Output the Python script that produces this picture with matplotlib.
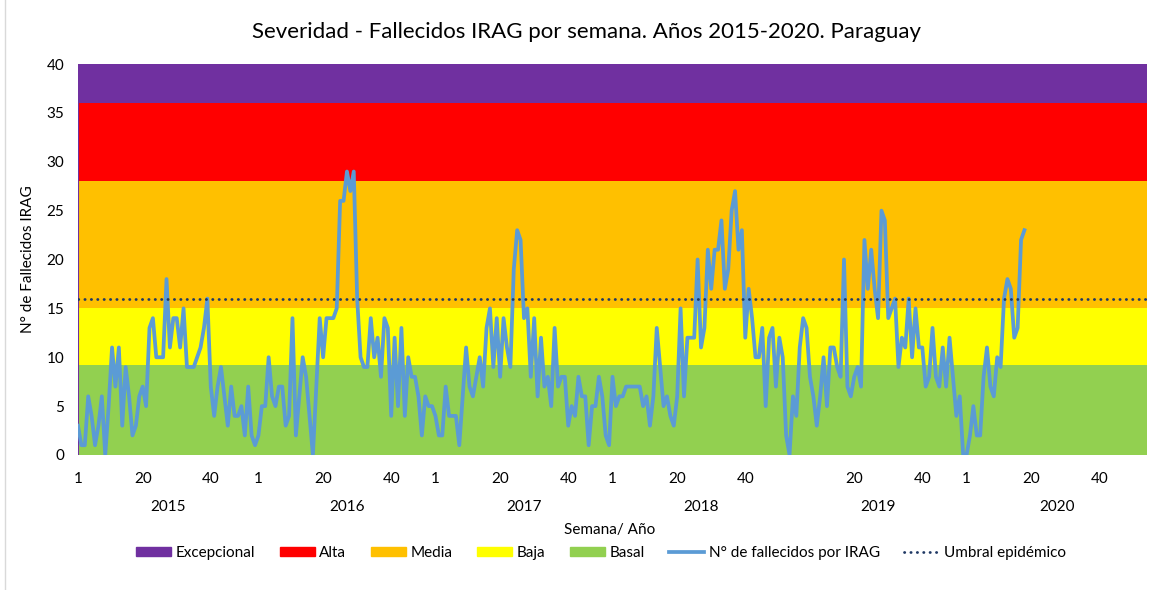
import numpy as np
import matplotlib
matplotlib.use("Agg")
import matplotlib.pyplot as plt
import matplotlib.transforms as mtransforms
from matplotlib.patches import Patch
from matplotlib.lines import Line2D

plt.rcParams['font.family'] = ['Lato', 'DejaVu Sans']

years = ['2015', '2016', '2017', '2018', '2019', '2020']
year_weeks = [53, 52, 52, 52, 52, 53]

# weekly deaths
deaths_2015 = [3, 1, 1, 6, 4, 1, 3, 6, 0, 5, 11, 7, 11, 3, 9, 6, 2, 3, 6, 7,
               5, 13, 14, 10, 10, 10, 18, 11, 14, 14, 11, 15, 9, 9, 9, 10, 11, 13, 16, 7,
               4, 7, 9, 6, 3, 7, 4, 4, 5, 2, 7, 2, 1]
deaths_2016 = [2, 5, 5, 10, 6, 5, 7, 7, 3, 4, 14, 2, 6, 10, 8, 4, 0, 7, 14, 10,
               14, 14, 14, 15, 26, 26, 29, 27, 29, 16, 10, 9, 9, 14, 10, 12, 8, 14, 13, 4,
               12, 5, 13, 4, 10, 8, 8, 6, 2, 6, 5, 5]
deaths_2017 = [4, 2, 2, 7, 4, 4, 4, 1, 6, 11, 7, 6, 8, 10, 7, 13, 15, 9, 14, 8,
               14, 11, 9, 19, 23, 22, 14, 15, 8, 14, 6, 12, 7, 8, 5, 13, 7, 8, 8, 3,
               5, 4, 8, 6, 6, 1, 5, 5, 8, 6, 2, 1]
deaths_2018 = [8, 5, 6, 6, 7, 7, 7, 7, 7, 5, 6, 3, 6, 13, 9, 5, 6, 4, 3, 6,
               15, 6, 12, 12, 12, 20, 11, 13, 21, 17, 21, 21, 24, 17, 19, 25, 27, 21, 23, 12,
               17, 14, 10, 10, 13, 5, 12, 13, 7, 12, 10, 2]
deaths_2019 = [0, 6, 4, 11, 14, 13, 8, 6, 3, 6, 10, 5, 11, 11, 9, 8, 20, 7, 6, 8,
               9, 7, 22, 17, 21, 17, 14, 25, 24, 14, 15, 16, 9, 12, 11, 16, 10, 15, 11, 11,
               7, 8, 13, 8, 7, 11, 7, 12, 8, 4, 6, 0]
deaths_2020 = [0, 2, 5, 2, 2, 8, 11, 7, 6, 10, 9, 16, 18, 17, 12, 13, 22, 23]

band_names = ['Basal', 'Baja', 'Media', 'Alta', 'Excepcional']
band_tops = [9.2, 15, 28, 36, 40]
band_colors = ['#92D050', '#FFFF00', '#FFC000', '#FF0000', '#7030A0']
umbral = 16

deaths = np.concatenate([deaths_2015, deaths_2016, deaths_2017,
                         deaths_2018, deaths_2019, deaths_2020])
weeks = np.arange(len(deaths))
n_total = sum(year_weeks)
starts = np.cumsum([0] + year_weeks[:-1])

fig = plt.figure(figsize=(11.64, 5.90), dpi=100)
ax = fig.add_axes([78 / 1164, 1 - 455 / 590, (1147 - 78) / 1164, (455 - 64) / 590])

x_band = np.array([0, n_total])
lower = 0
for top, col in zip(band_tops, band_colors):
    ax.fill_between(x_band, lower, top, color=col, lw=0)
    lower = top
ax.axvline(0, color='#7030A0', lw=1.5)

ax.plot(weeks, deaths, color='#5B9BD5', lw=2.7, solid_joinstyle='round')
ax.axhline(umbral, color='#1F3864', lw=2, linestyle=(0, (0.1, 2.2)),
           dash_capstyle='round')

ax.set_xlim(0, n_total)
ax.set_ylim(0, 40)
ax.set_yticks(range(0, 41, 5))

tick_pos, tick_lab = [], []
for s, yr in zip(starts, years):
    for w, lab in zip((0, 19, 39), ('1', '20', '40')):
        tick_pos.append(s + w)
        tick_lab.append('' if (yr == '2019' and lab == '1') else lab)
ax.set_xticks(tick_pos)
ax.set_xticklabels(tick_lab)
ax.tick_params(axis='both', length=0, labelsize=11, colors='#000000')
ax.tick_params(axis='x', pad=12)
ax.tick_params(axis='y', pad=10)
for sp in ax.spines.values():
    sp.set_visible(False)

trans = mtransforms.blended_transform_factory(ax.transData, ax.transAxes)
for s, w, yr in zip(starts, year_weeks, years):
    ax.text(s + w / 2, -0.133, yr, transform=trans, ha='center', va='center', fontsize=11)

ax.set_ylabel('N° de Fallecidos IRAG', fontsize=11, labelpad=8)
fig.text(610 / 1164, 1 - 530 / 590, 'Semana/ Año', ha='center', va='center', fontsize=11)
fig.text(587 / 1164, 1 - 32 / 590,
         'Severidad - Fallecidos IRAG por semana. Años 2015-2020. Paraguay',
         ha='center', va='center', fontsize=16)

handles = [Patch(color=c) for c in band_colors[::-1]]
handles += [Line2D([], [], color='#5B9BD5', lw=2.7),
            Line2D([], [], color='#1F3864', lw=2, linestyle=(0, (0.1, 2.2)),
                   dash_capstyle='round')]
labels = band_names[::-1] + ['N° de fallecidos por IRAG', 'Umbral epidémico']
fig.legend(handles, labels, loc='center', bbox_to_anchor=(601 / 1164, 1 - 553 / 590),
           ncol=7, frameon=False, fontsize=11, handlelength=2.3, handleheight=0.6,
           handletextpad=0.3, columnspacing=1.6)

fig.add_artist(Line2D([5 / 1164, 5 / 1164], [0, 1], color='#D9D9D9', lw=1,
                      transform=fig.transFigure))

fig.savefig('out.png', dpi=100)
